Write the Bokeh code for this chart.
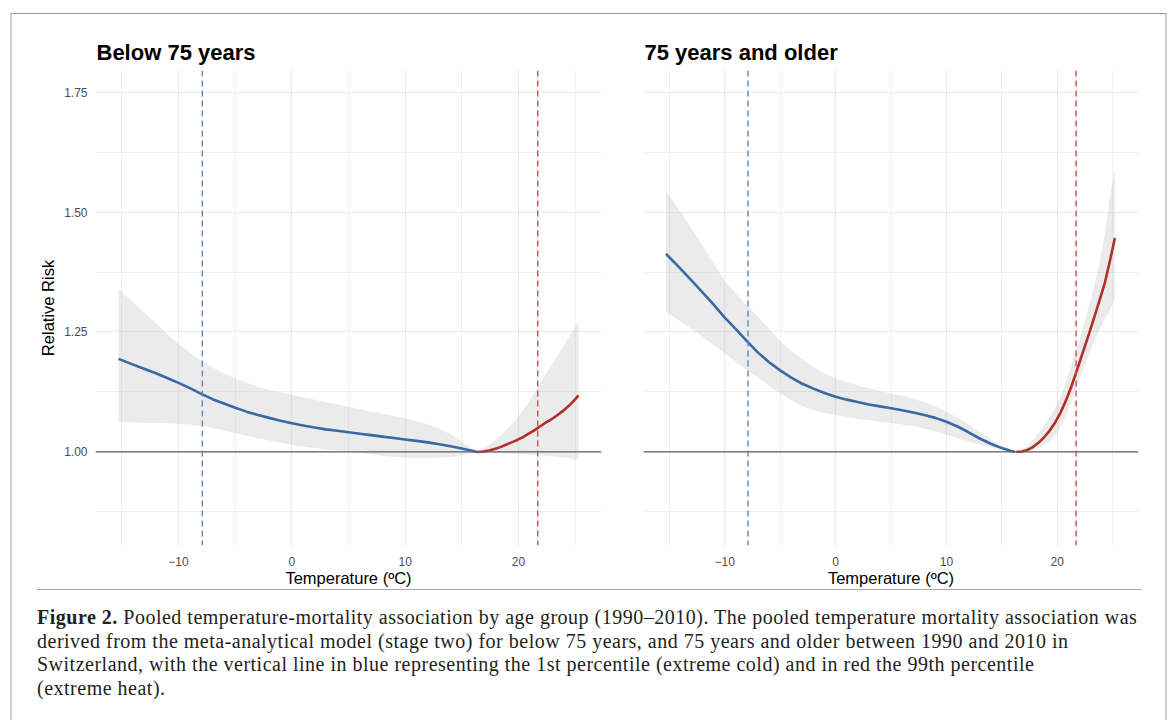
from bokeh.plotting import figure
from bokeh.layouts import row, column
from bokeh.models import FixedTicker, Range1d, Span, Div, PrintfTickFormatter
from bokeh.embed import file_html
from bokeh.resources import INLINE

# ---------------- data ----------------
panel_titles = ["Below 75 years", "75 years and older"]
x_ticks = [-10, 0, 10, 20]
x_minor = [-15, -5, 5, 15, 25]
y_ticks = [1.0, 1.25, 1.5, 1.75]
y_minor = [0.875, 1.125, 1.375, 1.625]
cold_p1 = -7.9     # 1st percentile temperature
heat_p99 = 21.7    # 99th percentile temperature

# Below 75 years
u75_cold_t = [-15.3, -14, -13, -12, -11, -10, -9, -8, -7, -6, -5, -4, -3, -2, -1, 0,
              1, 2, 3, 4, 5, 6, 7, 8, 9, 10, 11, 12, 13, 14, 15, 15.8, 16.4]
u75_cold_rr = [1.194, 1.182, 1.173, 1.164, 1.154, 1.144, 1.133, 1.121, 1.110, 1.101, 1.092,
               1.084, 1.077, 1.071, 1.065, 1.060, 1.055, 1.051, 1.047, 1.044, 1.041, 1.038,
               1.035, 1.032, 1.029, 1.026, 1.023, 1.020, 1.016, 1.012, 1.007, 1.003, 1.0]
u75_cold_hi = [1.340, 1.312, 1.290, 1.268, 1.246, 1.225, 1.207, 1.190, 1.176, 1.164, 1.153,
               1.144, 1.136, 1.129, 1.124, 1.119, 1.114, 1.109, 1.104, 1.099, 1.094, 1.089,
               1.084, 1.080, 1.075, 1.070, 1.064, 1.057, 1.049, 1.037, 1.021, 1.008, 1.0]
u75_cold_lo = [1.062, 1.062, 1.061, 1.061, 1.060, 1.059, 1.057, 1.054, 1.050, 1.045, 1.039,
               1.034, 1.029, 1.024, 1.019, 1.015, 1.011, 1.008, 1.005, 1.003, 1.001, 0.998,
               0.995, 0.992, 0.990, 0.988, 0.9875, 0.9875, 0.988, 0.989, 0.993, 0.997, 1.0]
u75_heat_t = [16.4, 16.9, 17.4, 17.9, 18.4, 18.9, 19.4, 19.9, 20.4, 20.9, 21.4, 21.9,
              22.4, 22.9, 23.4, 23.9, 24.4, 24.9, 25.3]
u75_heat_rr = [1.0, 1.001, 1.003, 1.006, 1.010, 1.015, 1.020, 1.025, 1.031, 1.038, 1.045,
               1.053, 1.061, 1.068, 1.076, 1.085, 1.095, 1.107, 1.118]
u75_heat_hi = [1.0, 1.007, 1.015, 1.024, 1.034, 1.045, 1.057, 1.071, 1.087, 1.104, 1.123,
               1.142, 1.161, 1.180, 1.198, 1.218, 1.238, 1.258, 1.273]
u75_heat_lo = [1.0, 0.9995, 0.999, 0.998, 0.998, 0.997, 0.996, 0.9955, 0.995, 0.994, 0.9935,
               0.993, 0.992, 0.991, 0.990, 0.989, 0.987, 0.985, 0.984]

# 75 years and older
o75_cold_t = [-15.3, -14, -12.5, -11, -10, -9, -8, -7, -6, -5, -4, -3, -2, -1, 0,
              1, 2, 3, 4, 5, 6, 7, 8, 9, 10, 11, 12, 13, 14, 15, 15.7, 16.2]
o75_cold_rr = [1.413, 1.382, 1.345, 1.307, 1.280, 1.256, 1.231, 1.207, 1.187, 1.170, 1.155,
               1.142, 1.132, 1.123, 1.115, 1.109, 1.104, 1.099, 1.095, 1.091, 1.087, 1.082,
               1.077, 1.071, 1.063, 1.053, 1.041, 1.028, 1.017, 1.008, 1.003, 1.0]
o75_cold_hi = [1.545, 1.500, 1.449, 1.392, 1.356, 1.330, 1.306, 1.282, 1.256, 1.232, 1.211,
               1.193, 1.177, 1.164, 1.153, 1.146, 1.139, 1.133, 1.127, 1.122, 1.117, 1.111,
               1.104, 1.095, 1.084, 1.071, 1.057, 1.041, 1.026, 1.012, 1.005, 1.0]
o75_cold_lo = [1.292, 1.272, 1.249, 1.223, 1.205, 1.188, 1.171, 1.155, 1.138, 1.122, 1.108,
               1.096, 1.087, 1.081, 1.077, 1.073, 1.069, 1.066, 1.063, 1.060, 1.057, 1.054,
               1.049, 1.043, 1.036, 1.029, 1.022, 1.015, 1.009, 1.0035, 1.001, 1.0]
o75_heat_t = [16.3, 16.8, 17.3, 17.8, 18.3, 18.8, 19.3, 19.8, 20.3, 20.8, 21.3, 21.8,
              22.3, 22.8, 23.3, 23.8, 24.3, 24.8, 25.2]
o75_heat_rr = [1.0, 1.001, 1.004, 1.010, 1.019, 1.030, 1.044, 1.061, 1.082, 1.108, 1.138,
               1.172, 1.207, 1.242, 1.278, 1.315, 1.353, 1.403, 1.446]
o75_heat_hi = [1.0, 1.005, 1.013, 1.024, 1.039, 1.055, 1.072, 1.092, 1.116, 1.146, 1.182,
               1.219, 1.257, 1.298, 1.343, 1.393, 1.455, 1.540, 1.590]
o75_heat_lo = [1.0, 1.0, 1.002, 1.004, 1.008, 1.014, 1.022, 1.034, 1.052, 1.076, 1.106,
               1.139, 1.170, 1.200, 1.228, 1.254, 1.278, 1.299, 1.318]

caption_lines = [
    "Pooled temperature-mortality association by age group (1990\u20132010). The pooled temperature mortality association was",
    "derived from the meta-analytical model (stage two) for below 75 years, and 75 years and older between 1990 and 2010 in",
    "Switzerland, with the vertical line in blue representing the 1st percentile (extreme cold) and in red the 99th percentile",
    "(extreme heat).",
]

# ---------------- styling ----------------
SANS = "Liberation Sans"
BLUE = "#3A68A6"
RED = "#B22E26"
BLUE_DASH = "#5B87C6"
RED_DASH = "#C6504A"
GRID = "#EBEBEB"


def make_panel(title, ct, crr, chi, clo, ht, hrr, hhi, hlo, width, bl, br, show_y):
    p = figure(width=width, height=575, title=title,
               x_range=Range1d(-17.33, 27.33), y_range=Range1d(0.805, 1.795),
               output_backend="svg", toolbar_location=None,
               min_border_left=bl, min_border_right=br,
               min_border_top=56, min_border_bottom=39,
               background_fill_color="white", border_fill_color="white",
               outline_line_color=None)
    p.title.text_font = SANS
    p.title.text_font_style = "bold"
    p.title.text_font_size = "22px"
    p.title.text_color = "black"
    p.title.align = "left"
    p.title.standoff = 12
    p.title.offset = 1

    xt = FixedTicker(ticks=x_ticks, minor_ticks=x_minor)
    yt = FixedTicker(ticks=y_ticks, minor_ticks=y_minor)
    p.xaxis.ticker = xt
    p.yaxis.ticker = yt
    p.xgrid.ticker = xt
    p.ygrid.ticker = yt
    for g in (p.xgrid, p.ygrid):
        g.grid_line_color = GRID
        g.grid_line_width = 1.2
        g.minor_grid_line_color = "#F0F0F0"
        g.minor_grid_line_width = 1.0

    for ax in (p.xaxis, p.yaxis):
        ax.axis_line_color = None
        ax.major_tick_line_color = None
        ax.minor_tick_line_color = None
        ax.major_label_text_font = SANS
        ax.major_label_text_font_size = "12px"
        ax.major_label_text_color = "#4D4D4D"
        ax.axis_label_text_font = SANS
        ax.axis_label_text_font_size = "16.5px"
        ax.axis_label_text_font_style = "normal"
        ax.axis_label_text_color = "black"
    p.xaxis.axis_label = "Temperature (\u00baC)"
    p.xaxis.major_label_standoff = 5
    p.xaxis.axis_label_standoff = 0
    p.xaxis.major_label_overrides = {-10: "\u221210", 0: "0", 10: "10", 20: "20"}
    p.yaxis.formatter = PrintfTickFormatter(format="%.2f")
    if show_y:
        p.yaxis.axis_label = "Relative Risk"
        p.yaxis.major_label_standoff = 2
        p.yaxis.axis_label_standoff = 4
    else:
        p.yaxis.visible = False

    # confidence bands
    p.varea(x=ct, y1=clo, y2=chi, fill_color="#BEBEBE", fill_alpha=0.3)
    p.varea(x=ht, y1=hlo, y2=hhi, fill_color="#BEBEBE", fill_alpha=0.3)

    # reference line at RR = 1
    p.add_layout(Span(location=1.0, dimension="width", line_color="#5F5F5F", line_width=1.2))

    # curves
    p.line(ct, crr, line_color=BLUE, line_width=2.6, line_join="round")
    p.line(ht, hrr, line_color=RED, line_width=2.6, line_join="round")

    # percentile lines
    p.add_layout(Span(location=cold_p1, dimension="height", line_color=BLUE_DASH,
                      line_width=1.4, line_dash="6 4"))
    p.add_layout(Span(location=heat_p99, dimension="height", line_color=RED_DASH,
                      line_width=1.4, line_dash="6 4"))
    return p


p1 = make_panel(panel_titles[0], u75_cold_t, u75_cold_rr, u75_cold_hi, u75_cold_lo,
                u75_heat_t, u75_heat_rr, u75_heat_hi, u75_heat_lo,
                width=608, bl=83, br=19, show_y=True)
p2 = make_panel(panel_titles[1], o75_cold_t, o75_cold_rr, o75_cold_hi, o75_cold_lo,
                o75_heat_t, o75_heat_rr, o75_heat_hi, o75_heat_lo,
                width=545, bl=23, br=27, show_y=False)

cap_html = (
    '<div style="display:block; width:1105px; font-family:\'Liberation Serif\',serif; '
    'font-size:20px; letter-spacing:0.5px; line-height:23.5px; '
    'color:#231f20; border-top:1px solid #ababab; padding-top:16px; white-space:nowrap;">'
    '<b>Figure 2.</b> ' + caption_lines[0] + '<br>' + '<br>'.join(caption_lines[1:]) + '</div>'
)
cap = Div(text=cap_html, width=1106, height=140, margin=(0, 0, 0, 25))

layout = column(row(p1, p2), cap, margin=(13, 0, 0, 10),
                styles={"border-top": "1px solid #9a9a9a",
                        "border-left": "2px solid #cfcfcf",
                        "border-right": "2px solid #cfcfcf"})

open("out.html", "w").write(file_html(layout, INLINE))
